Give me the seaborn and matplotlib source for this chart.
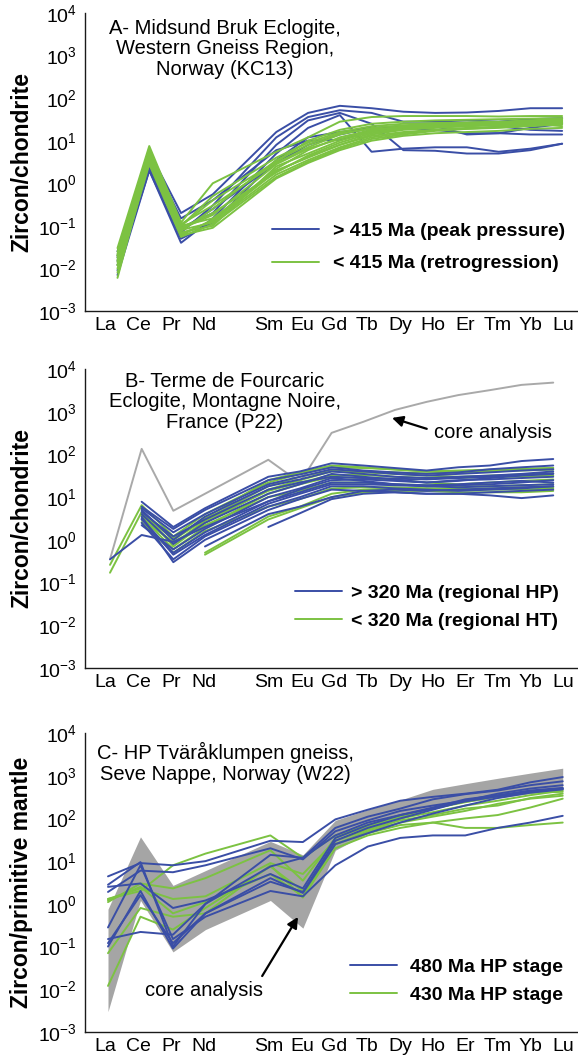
import numpy as np
import pandas as pd
import matplotlib
matplotlib.use("Agg")
import matplotlib.pyplot as plt
import seaborn as sns
from matplotlib.lines import Line2D

# ---------------- data ----------------
ELEMENTS = ['La', 'Ce', 'Pr', 'Nd', 'Pm', 'Sm', 'Eu', 'Gd', 'Tb', 'Dy', 'Ho', 'Er', 'Tm', 'Yb', 'Lu']
TICK_LABELS = ['La', 'Ce', 'Pr', 'Nd', '', 'Sm', 'Eu', 'Gd', 'Tb', 'Dy', 'Ho', 'Er', 'Tm', 'Yb', 'Lu']
REE = ['La', 'Ce', 'Pr', 'Nd', 'Sm', 'Eu', 'Gd', 'Tb', 'Dy', 'Ho', 'Er', 'Tm', 'Yb', 'Lu']
nan = np.nan

# Panel A (Midsund Bruk) - values per REE (La..Lu, without Pm)
A_blue = [
    [0.020, 5.5, 0.20, 0.55, 16, 45, 66, 58, 48, 45, 46, 50, 58, 58],
    [0.012, 2.2, 0.07, 0.30, 12, 36, 52, 45, 28, 28, 30, 28, 32, 34],
    [0.009, 2.0, 0.04, 0.15, 5, 20, 40, 5.5, 6.5, 7, 7, 5.5, 6.5, 8.5],
    [0.015, 2.6, 0.09, 0.20, 8, 30, 45, 25, 6, 5.8, 5, 5, 6, 8.5],
    [0.007, 2.0, 0.05, 0.12, 3.5, 12, 16, 20, 22, 24, 25, 22, 18, 17],
    [0.025, 4.5, 0.15, 0.40, 6, 10, 10.5, 18, 20, 22, 14, 15, 20, 25],
    [0.018, 2.3, 0.08, 0.25, 3, 8, 14, 20, 20, 18, 15, 15, 14, 14],
]
A_green = [
    [0.030, 7.5, 0.12, 1.00, 5.5, 12, 28, 36, 38, 38, 38, 37, 38, 38],
    [0.006, 3.5, 0.06, 0.09, 1.3, 3, 6, 10, 13, 15, 16, 17, 19, 20],
    [0.020, 4.5, 0.10, 0.15, 2.0, 4, 8, 13, 16, 18, 20, 21, 23, 25],
    [0.015, 3.8, 0.08, 0.12, 1.6, 3.5, 7, 12, 15, 18, 19, 20, 22, 24],
    [0.025, 5.0, 0.11, 0.30, 3, 7, 14, 20, 23, 25, 26, 27, 28, 30],
    [0.012, 4.0, 0.07, 0.10, 2.5, 5, 10, 16, 20, 22, 23, 24, 25, 27],
    [0.018, 3.2, 0.09, 0.20, 1.8, 4.5, 9, 15, 19, 21, 23, 24, 27, 29],
    [0.010, 3.0, 0.06, 0.14, 2.2, 6, 12, 18, 21, 23, 25, 27, 29, 31],
    [0.022, 6.5, 0.10, 0.50, 4, 9, 16, 22, 25, 26, 27, 28, 30, 33],
    [0.014, 4.2, 0.075, 0.25, 3.5, 8, 15, 19, 20, 21, 22, 24, 26, 28],
    [0.008, 2.8, 0.055, 0.11, 1.4, 3.2, 6.5, 11, 14, 17, 19, 21, 24, 26],
    [0.016, 3.6, 0.085, 0.18, 2.8, 6.5, 11, 17, 22, 24, 24, 25, 26, 27],
    [0.020, 5.5, 0.10, 0.40, 3.2, 10, 18, 25, 28, 30, 31, 32, 33, 34],
    [0.012, 3.4, 0.065, 0.13, 1.9, 4.2, 8, 14, 18, 20, 22, 23, 25, 22],
]

# Panel B (Terme de Fourcaric)
B_blue = [
    [0.35, 1.3, 0.9, 2.0, 8, 15, 25, 26, 24, 22, 25, 26, 28, 30],
    [nan, 7.8, 2.0, 5.5, 30, 40, 62, 55, 48, 42, 50, 55, 70, 78],
    [nan, 5.5, 1.5, 4.0, 20, 30, 45, 40, 35, 32, 35, 38, 42, 45],
    [nan, 4.0, 0.8, 2.5, 12, 20, 35, 30, 26, 22, 24, 28, 32, 35],
    [nan, 3.0, 0.5, 1.5, 8, 13, 22, 22, 20, 18, 19, 20, 22, 25],
    [nan, 2.5, 0.35, 1.2, 6, 10, 18, 18, 16, 15, 14, 15, 16, 18],
    [nan, 3.5, 0.3, 1.0, 5, 9, 15, 14, 13, 12, 12, 11, 9.5, 11],
    [nan, 4.5, 1.2, 3.0, 15, 22, 30, 28, 27, 26, 28, 30, 33, 36],
    [nan, 2.2, 0.6, 1.8, 10, 16, 28, 24, 20, 19, 20, 22, 24, 22],
    [nan, nan, nan, 0.7, 4, 6, 10, 14, 15, 14, 15, 16, 17, 18],
    [nan, nan, nan, nan, 2.0, 4.2, 9, 12, 13, 12, 12, 13, 14, 15],
    [nan, 5.0, 1.0, 3.5, 18, 26, 40, 35, 30, 28, 30, 32, 35, 40],
    [nan, 3.2, 0.45, 1.3, 7, 12, 20, 20, 19, 18, 17, 18, 19, 20],
    [nan, 6.0, 1.8, 5.0, 25, 34, 50, 42, 38, 35, 38, 45, 50, 55],
]
B_green = [
    [0.26, 6.5, 1.2, 4.0, 22, 35, 50, 48, 45, 40, 42, 44, 46, 48],
    [0.17, 4.5, 1.0, 3.0, 18, 30, 42, 40, 38, 36, 38, 40, 42, 44],
    [nan, 5.0, 0.7, 2.5, 15, 25, 40, 38, 35, 32, 30, 32, 34, 36],
    [nan, 3.5, 0.6, 2.0, 12, 20, 30, 28, 25, 22, 20, 22, 24, 26],
    [nan, nan, nan, 0.5, 3.5, 6, 12, 15, 16, 16, 15, 15, 15, 16],
    [nan, nan, nan, 0.45, 3.0, 5.5, 10, 13, 14, 14, 13, 13, 13, 14],
    [nan, 3.0, 0.9, 2.2, 10, 14, 22, 22, 20, 19, 18, 18, 19, 20],
    [nan, 4.2, 1.1, 3.2, 25, 38, 55, 50, 44, 40, 40, 42, 45, 48],
    [nan, 2.6, 0.5, 1.6, 6, 9, 16, 17, 17, 16, 16, 16, 17, 17],
    [nan, 3.8, 0.8, 2.8, 14, 22, 33, 33, 30, 28, 28, 30, 30, 32],
]
B_core = [0.35, 135, 4.8, 12, 75, 22, 320, 580, 1100, 1700, 2450, 3200, 4250, 4800]

# Panel C (Tväråklumpen gneiss)
C_blue = [
    [4.4, 9.0, 8.0, 10, 30, 28, 95, 160, 260, 320, 380, 470, 700, 930],
    [2.8, 9.5, 0.10, 1.0, 14, 12, 60, 110, 170, 280, 370, 450, 600, 740],
    [0.10, 2.0, 0.09, 0.6, 3.3, 1.9, 30, 60, 100, 160, 260, 380, 500, 600],
    [0.15, 0.22, 0.19, 1.0, 7.5, 12, 40, 80, 120, 170, 250, 330, 420, 490],
    [1.9, 6.0, 5.5, 8.0, 20, 11, 50, 90, 150, 200, 260, 330, 420, 500],
    [0.28, 8.0, 0.15, 0.5, 2.0, 1.5, 8, 22, 35, 40, 40, 60, 80, 115],
    [2.5, 3.0, 0.8, 1.2, 5, 2.3, 35, 70, 120, 180, 280, 350, 450, 520],
    [0.12, 1.6, 0.12, 0.6, 4, 1.8, 25, 45, 80, 130, 200, 300, 400, 480],
]
C_green = [
    [1.3, 2.0, 8.0, 15, 40, 12, 40, 70, 110, 170, 240, 330, 400, 420],
    [1.1, 3.0, 2.3, 4.0, 18, 3.5, 35, 65, 100, 140, 200, 260, 350, 450],
    [0.07, 0.8, 0.5, 0.6, 8, 1.4, 20, 40, 60, 80, 100, 120, 180, 290],
    [0.012, 0.5, 0.25, 0.8, 7.5, 2.0, 25, 45, 70, 80, 60, 60, 70, 80],
    [1.3, 2.3, 1.3, 1.5, 9, 5, 30, 55, 90, 120, 170, 200, 300, 380],
    [1.2, 2.5, 0.6, 1.1, 5, 1.5, 25, 50, 80, 110, 150, 220, 290, 340],
]
C_core_upper = [0.75, 37, 2.7, 6, 29, 14, 90, 160, 270, 480, 650, 870, 1150, 1500]
C_core_lower = [0.003, 1.2, 0.075, 0.25, 1.2, 0.27, 18, 45, 95, 180, 240, 300, 380, 500]

TITLES = ["A- Midsund Bruk Eclogite,\nWestern Gneiss Region,\nNorway (KC13)",
          "B- Terme de Fourcaric\nEclogite, Montagne Noire,\nFrance (P22)",
          "C- HP Tväråklumpen gneiss,\nSeve Nappe, Norway (W22)"]
YLABELS = ["Zircon/chondrite", "Zircon/chondrite", "Zircon/primitive mantle"]
LEGENDS = [["> 415 Ma (peak pressure)", "< 415 Ma (retrogression)"],
           ["> 320 Ma (regional HP)", "< 320 Ma (regional HT)"],
           ["480 Ma HP stage", "430 Ma HP stage"]]
YTICKS = [1e-3, 1e-2, 1e-1, 1e0, 1e1, 1e2, 1e3, 1e4]
YTICK_LABELS = [r'$\mathregular{10^{-3}}$', r'$\mathregular{10^{-2}}$', r'$\mathregular{10^{-1}}$',
                r'$\mathregular{10^{0}}$', r'$\mathregular{10^{1}}$', r'$\mathregular{10^{2}}$',
                r'$\mathregular{10^{3}}$', r'$\mathregular{10^{4}}$']

BLUE = '#3a4ea6'
GREEN = '#7cc242'
GREY_LINE = '#a9a9a9'
GREY_FILL = '#a5a5a5'

REE_POS = [ELEMENTS.index(e) for e in REE]


def to_long(series_list, group, prefix):
    rows = []
    for k, vals in enumerate(series_list):
        for pos, v in zip(REE_POS, vals):
            if not np.isnan(v):
                rows.append({'pos': pos, 'val': v, 'group': group, 'sample': f'{prefix}{k}'})
    return rows


# ---------------- style ----------------
sns.set_style('white')
plt.rcParams['font.family'] = ['Liberation Sans', 'DejaVu Sans']
plt.rcParams['mathtext.fontset'] = 'custom'
plt.rcParams['mathtext.rm'] = 'Liberation Sans'
plt.rcParams['mathtext.it'] = 'Liberation Sans:italic'
plt.rcParams['mathtext.bf'] = 'Liberation Sans:bold'
plt.rcParams['text.color'] = 'black'
plt.rcParams['axes.labelcolor'] = 'black'
plt.rcParams['xtick.color'] = 'black'
plt.rcParams['ytick.color'] = 'black'
plt.rcParams['axes.edgecolor'] = 'black'

fig = plt.figure(figsize=(5.78, 10.59), dpi=100)
W, H = 578.0, 1059.0

# layout in pixels: (axes top px, axes bottom px, data La px, data step px)
panels = [
    dict(top=13, bot=311, x0=117.5, step=31.76),
    dict(top=369, bot=668, x0=110.0, step=31.66),
    dict(top=733, bot=1032, x0=108.0, step=32.48),
]
AX_LEFT, AX_RIGHT = 85.0, 578.0
TICK_PX0, TICK_STEP = 105.7, 32.7

legend_cfg = [
    dict(x=272, y=247.5, pad=0.72, spacing=0.75),
    dict(x=295, y=607, pad=0.50, spacing=0.55),
    dict(x=350, y=981, pad=0.67, spacing=0.55),
]
title_cfg = [dict(y=49), dict(y=402), dict(y=763)]

axes = []
for i, p in enumerate(panels):
    ax = fig.add_axes([AX_LEFT / W, 1 - p['bot'] / H, (AX_RIGHT - AX_LEFT) / W, (p['bot'] - p['top']) / H])
    axes.append(ax)
    ax.set_yscale('log')
    ax.set_ylim(1e-3, 1e4)
    ax.set_xlim((AX_LEFT - p['x0']) / p['step'], (AX_RIGHT - p['x0']) / p['step'])
    ticks = [(TICK_PX0 + k * TICK_STEP - p['x0']) / p['step'] for k in range(15)]
    ax.set_xticks(ticks)
    ax.set_xticklabels(TICK_LABELS)
    ax.set_yticks(YTICKS)
    ax.set_yticklabels(YTICK_LABELS)
    ax.minorticks_off()

# Panel A
dfA = pd.DataFrame(to_long(A_blue, 'old', 'b') + to_long(A_green, 'young', 'g'))
sns.lineplot(data=dfA, x='pos', y='val', hue='group', units='sample', estimator=None, sort=False,
             palette={'old': BLUE, 'young': GREEN}, hue_order=['old', 'young'], lw=1.4, ax=axes[0], legend=False)

# Panel B
dfB_core = pd.DataFrame({'pos': REE_POS, 'val': B_core})
sns.lineplot(data=dfB_core, x='pos', y='val', color=GREY_LINE, lw=1.4, ax=axes[1], sort=False)
dfB = pd.DataFrame(to_long(B_green, 'young', 'g') + to_long(B_blue, 'old', 'b'))
sns.lineplot(data=dfB, x='pos', y='val', hue='group', units='sample', estimator=None, sort=False,
             palette={'old': BLUE, 'young': GREEN}, hue_order=['young', 'old'], lw=1.4, ax=axes[1], legend=False)

# Panel C
axes[2].fill_between(REE_POS, C_core_lower, C_core_upper, color=GREY_FILL, lw=0, zorder=1)
dfC = pd.DataFrame(to_long(C_green, 'young', 'g') + to_long(C_blue, 'old', 'b'))
sns.lineplot(data=dfC, x='pos', y='val', hue='group', units='sample', estimator=None, sort=False,
             palette={'old': BLUE, 'young': GREEN}, hue_order=['young', 'old'], lw=1.4, ax=axes[2], legend=False)

for i, (ax, p) in enumerate(zip(axes, panels)):
    ax.set_xlabel('')
    ax.set_ylabel(YLABELS[i], fontsize=16.5, fontweight='bold', color='black')
    ax.yaxis.set_label_coords((33 - AX_LEFT) / (AX_RIGHT - AX_LEFT), 0.5)
    for s in ['top', 'right']:
        ax.spines[s].set_visible(False)
    for s in ['left', 'bottom']:
        ax.spines[s].set_linewidth(1.0)
        ax.spines[s].set_color('#1a1a1a')
    ax.tick_params(axis='y', direction='in', length=10, width=0.9, labelsize=14, pad=6, color='#1a1a1a', labelcolor='black')
    ax.tick_params(axis='x', direction='in', length=8, width=0.9, labelsize=14, pad=4, color='#1a1a1a', labelcolor='black')
    # title
    ty = (p['bot'] - title_cfg[i]['y']) / (p['bot'] - p['top'])
    ax.text((225 - AX_LEFT) / (AX_RIGHT - AX_LEFT), ty, TITLES[i], transform=ax.transAxes,
            ha='center', va='center', fontsize=14.5, linespacing=1.1, zorder=0, color='black')
    # legend
    lc = legend_cfg[i]
    handles = [Line2D([], [], color=BLUE, lw=1.4), Line2D([], [], color=GREEN, lw=1.4)]
    leg = ax.legend(handles, LEGENDS[i], loc='center left',
                    bbox_to_anchor=((lc['x'] - AX_LEFT) / (AX_RIGHT - AX_LEFT), (p['bot'] - lc['y']) / (p['bot'] - p['top'])),
                    frameon=False, borderpad=0, borderaxespad=0, handlelength=2.4,
                    handletextpad=lc['pad'], labelspacing=lc['spacing'],
                    prop={'size': 14, 'weight': 'bold'}, labelcolor='black')

# annotations
pB = panels[1]
axes[1].annotate('core analysis', xy=((392 - pB['x0']) / pB['step'], 10 ** ((668 - 418) / 42.7 - 3)), xycoords='data',
                 xytext=((434 - AX_LEFT) / (AX_RIGHT - AX_LEFT), (668 - 433) / 299.0), textcoords='axes fraction',
                 ha='left', va='center', fontsize=14.5, color='black',
                 arrowprops=dict(arrowstyle='-|>', color='black', lw=1.6, mutation_scale=16,
                                 shrinkA=3, shrinkB=0, relpos=(0, 0.6)))
pC = panels[2]
axes[2].annotate('core analysis', xy=((298 - pC['x0']) / pC['step'], 10 ** ((1032 - 917) / 42.7 - 3)), xycoords='data',
                 xytext=((204 - AX_LEFT) / (AX_RIGHT - AX_LEFT), (1032 - 990) / 299.0), textcoords='axes fraction',
                 ha='center', va='center', fontsize=14.5, color='black',
                 arrowprops=dict(arrowstyle='-|>', color='black', lw=1.6, mutation_scale=16,
                                 shrinkA=1, shrinkB=0, relpos=(0.97, 1.0)))

fig.savefig('out.png', dpi=100)
